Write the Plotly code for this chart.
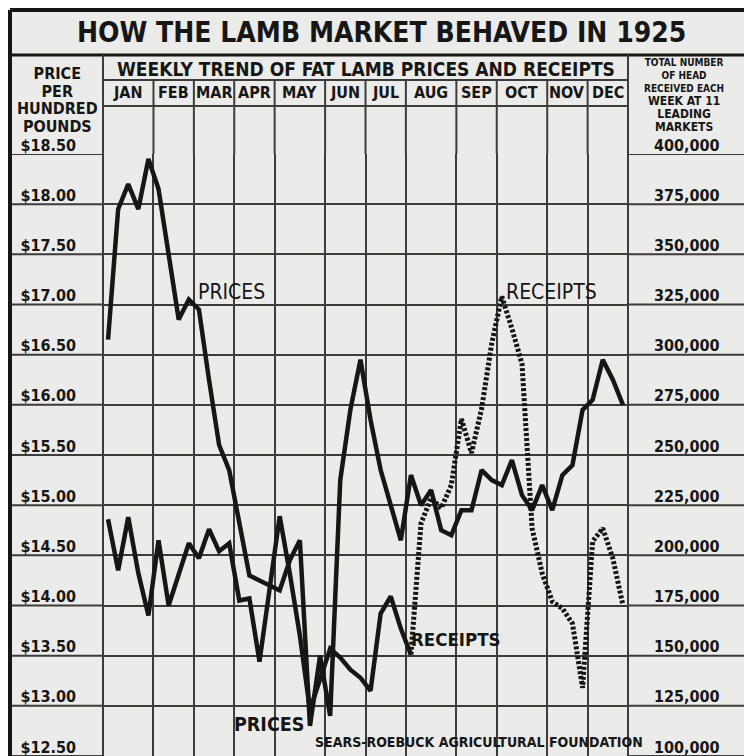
import plotly.graph_objects as go

# ---------------- data ----------------
month_names = ["JAN", "FEB", "MAR", "APR", "MAY", "JUN", "JUL", "AUG", "SEP", "OCT", "NOV", "DEC"]
month_weeks = [5, 4, 4, 4, 5, 4, 4, 5, 4, 5, 4, 4]

# weekly fat lamb price, $ per hundred pounds (52 weeks of 1925)
prices = [16.65, 17.95, 18.20, 17.95, 18.45, 18.15, 17.50, 16.85, 17.05, 16.95,
          16.25, 15.60, 15.35, 14.85, 14.30, 14.25, 14.20, 14.15, 14.45, 14.65,
          12.80, 13.50, 12.90, 15.25, 15.95, 16.45, 15.85, 15.35, 15.00, 14.65,
          15.30, 15.00, 15.15, 14.75, 14.70, 14.95, 14.95, 15.35, 15.25, 15.20,
          15.45, 15.10, 14.95, 15.20, 14.95, 15.30, 15.40, 15.95, 16.05, 16.45,
          16.25, 16.00]

# weekly receipts, head at 11 leading markets
receipts = [218000, 192500, 219000, 191000, 170000, 207500, 175000, 190500, 206000, 198500,
            213000, 202000, 206000, 177500, 178500, 147000, 183500, 219500, 191000, 160000,
            123000, 139000, 153500, 149000, 143000, 139000, 132500, 171000, 179500, 163500,
            150500, 216000, 228500, 223500, 235000, 268000, 251000, 273000, 305500, 329000,
            313000, 295500, 213500, 191000, 177000, 173500, 166000, 134000, 207000, 213500,
            198500, 175000]

price_ticks = [12.5, 13.0, 13.5, 14.0, 14.5, 15.0, 15.5, 16.0, 16.5, 17.0, 17.5, 18.0, 18.5]
price_tick_text = ["$12.50", "$13.00", "$13.50", "$14.00", "$14.50", "$15.00", "$15.50",
                   "$16.00", "$16.50", "$17.00", "$17.50", "$18.00", "$18.50"]
receipt_ticks = [100000, 125000, 150000, 175000, 200000, 225000, 250000,
                 275000, 300000, 325000, 350000, 375000, 400000]
receipt_tick_text = ["100,000", "125,000", "150,000", "175,000", "200,000", "225,000", "250,000",
                     "275,000", "300,000", "325,000", "350,000", "375,000", "400,000"]

# ---------------- derived ----------------
week_x = [i + 0.5 for i in range(len(prices))]
bounds = [0]
for w in month_weeks:
    bounds.append(bounds[-1] + w)
mid = [(bounds[k] + bounds[k + 1]) / 2 for k in range(12)]
split = 30  # receipts drawn dotted from this week on

OFF = 8  # default page margin of the html body
W, H = 752 - OFF, 756 - OFF
ML, MR, MT, MB = 103 - OFF, 124, 154 - OFF, 0
PW, PH = W - ML - MR, H - MT - MB


def px(xpix):  # page pixel -> paper x
    return (xpix - OFF - ML) / PW


def py(ypix):  # page pixel -> paper y
    return (H - MB - (ypix - OFF)) / PH


INK = "#161616"
GRID = "#3c3c3c"
BG = "#ebebe9"
FONT = "DejaVu Sans Condensed, Liberation Sans Narrow, Roboto Condensed, Arial Narrow, sans-serif"

fig = go.Figure()
fig.add_trace(go.Scatter(x=week_x, y=prices, mode="lines", name="Prices",
                         line=dict(color=INK, width=4.5), yaxis="y"))
fig.add_trace(go.Scatter(x=week_x[:split + 1], y=receipts[:split + 1], mode="lines", name="Receipts",
                         line=dict(color=INK, width=4.5), yaxis="y2"))
fig.add_trace(go.Scatter(x=week_x[split:], y=receipts[split:], mode="lines", name="Receipts",
                         line=dict(color=INK, width=5, dash="3px,2px"), yaxis="y2"))

shapes = []
LW = 2
# outer frame
shapes.append(dict(type="line", xref="paper", yref="paper", x0=px(10), x1=px(750), y0=py(10), y1=py(10),
                   line=dict(color=INK, width=4)))
shapes.append(dict(type="line", xref="paper", yref="paper", x0=px(10), x1=px(10), y0=0, y1=py(10),
                   line=dict(color=INK, width=4)))
shapes.append(dict(type="line", xref="paper", yref="paper", x0=px(749), x1=px(749), y0=0, y1=py(10),
                   line=dict(color=INK, width=2)))
# title bottom
shapes.append(dict(type="line", xref="paper", yref="paper", x0=px(10), x1=px(750), y0=py(55), y1=py(55),
                   line=dict(color=INK, width=3)))
# header rows in month block
for yy in (80, 106):
    shapes.append(dict(type="line", xref="paper", yref="paper", x0=0, x1=1, y0=py(yy), y1=py(yy),
                       line=dict(color=GRID, width=LW)))
# column borders
for xx in (0, 1):
    shapes.append(dict(type="line", xref="paper", yref="paper", x0=xx, x1=xx, y0=0, y1=py(55),
                       line=dict(color=GRID, width=LW)))
# month lines in header
for b in bounds[1:-1]:
    shapes.append(dict(type="line", xref="x", yref="paper", x0=b, x1=b, y0=1, y1=py(80),
                       line=dict(color=GRID, width=LW)))
# horizontal rules through label columns
for v in price_ticks:
    shapes.append(dict(type="line", xref="paper", yref="y", x0=px(10), x1=0, y0=v, y1=v,
                       line=dict(color=GRID, width=LW), layer="below"))
    shapes.append(dict(type="line", xref="paper", yref="y", x0=1, x1=px(749), y0=v, y1=v,
                       line=dict(color=GRID, width=LW), layer="below"))

ann = []


def text(t, xp, yp, size, bold=True, xanchor="center", xref="paper", yref="paper"):
    ann.append(dict(text=t, x=xp, y=yp, xref=xref, yref=yref, showarrow=False,
                    xanchor=xanchor, yanchor="middle", align="center", borderpad=0,
                    font=dict(family=FONT, size=size, color=INK, weight=700 if bold else 400)))


def sized(t, s):
    return '<span style="font-size:%spx">%s</span>' % (s, t)


text("HOW THE LAMB MARKET BEHAVED IN 1925", px(381), py(33), 28)
text("WEEKLY TREND OF FAT LAMB PRICES AND RECEIPTS", px(366), py(69), 19)
for name, m in zip(month_names, mid):
    text(name, m, py(93), 16, xref="x")
text("<br>".join(sized(t, 16) for t in ["PRICE", "PER", "HUNDRED", "POUNDS"]), px(57), py(100), 13.5)
text("TOTAL NUMBER<br>OF HEAD<br>RECEIVED EACH<br>"
     + "<br>".join(sized(t, 12) for t in ["WEEK AT 11", "LEADING", "MARKETS"]),
     px(684), py(95), 10)
# in-chart labels
text("PRICES", 9.3, 17.12, 21, bold=False, xanchor="left", xref="x", yref="y")
text("RECEIPTS", 39.8, 331000, 21, bold=False, xanchor="left", xref="x", yref="y2")
text("RECEIPTS", 30.4, 158000, 18.5, xanchor="left", xref="x", yref="y2")
text("PRICES", 12.9, 12.81, 19.5, xanchor="left", xref="x", yref="y")
text("SEARS-ROEBUCK AGRICULTURAL FOUNDATION", px(479), py(742), 14)

tickfont = dict(family=FONT, size=16, color=INK, weight=700)
fig.update_layout(
    width=W, height=H,
    margin=dict(l=ML, r=MR, t=MT, b=MB, pad=0),
    paper_bgcolor=BG, plot_bgcolor=BG,
    showlegend=False,
    shapes=shapes, annotations=ann,
    xaxis=dict(range=[0, 52], tickvals=bounds, showticklabels=False, ticks="",
               showgrid=True, gridcolor=GRID, gridwidth=LW, zeroline=False, showline=False),
    yaxis=dict(range=[12.5, 18.5], tickvals=price_ticks, ticktext=price_tick_text, ticks="",
               showgrid=True, gridcolor=GRID, gridwidth=LW, zeroline=False, showline=False,
               tickfont=tickfont, ticklabelstandoff=26, ticklabelshift=-9,
               ticklabeloverflow="allow"),
    yaxis2=dict(range=[100000, 400000], tickvals=receipt_ticks, ticktext=receipt_tick_text,
                overlaying="y", side="right", ticks="", showgrid=False, zeroline=False,
                showline=False, tickfont=tickfont, ticklabelstandoff=25, ticklabelshift=-9,
                ticklabeloverflow="allow"),
)

fig.write_html("out.html")
